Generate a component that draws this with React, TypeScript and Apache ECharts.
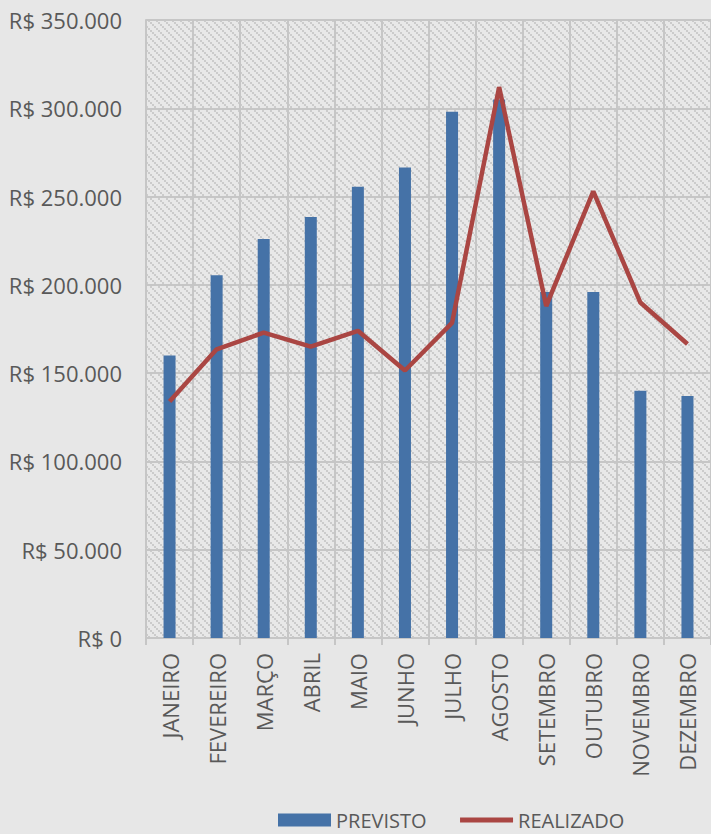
import React, { useEffect, useRef } from "react";
import * as echarts from "echarts";

const categories = ["JANEIRO", "FEVEREIRO", "MARÇO", "ABRIL", "MAIO", "JUNHO", "JULHO", "AGOSTO", "SETEMBRO", "OUTUBRO", "NOVEMBRO", "DEZEMBRO"];
const previsto = [160000, 205500, 226000, 238500, 255500, 266500, 298000, 305000, 196000, 196000, 140000, 137000];
const realizado = [134000, 163500, 173000, 165000, 174000, 151500, 178500, 312000, 188000, 253000, 190000, 166500];
const seriesNames = ["PREVISTO", "REALIZADO"];

function makePattern(): HTMLCanvasElement {
  const c = document.createElement("canvas");
  c.width = 8;
  c.height = 8;
  const ctx = c.getContext("2d")!;
  ctx.fillStyle = "#e8e8e8";
  ctx.fillRect(0, 0, 8, 8);
  ctx.fillStyle = "#cbcbcb";
  for (let y = 0; y < 8; y++) {
    for (let x = 0; x < 8; x++) {
      if ((((x >> 1) - (y >> 1)) % 4 + 4) % 4 === 0) ctx.fillRect(x, y, 1, 1);
    }
  }
  return c;
}

function fmt(v: number): string {
  const s = Math.round(v).toString().replace(/\B(?=(\d{3})+(?!\d))/g, ".");
  return "R$ " + s;
}

export default function App() {
  const ref = useRef<HTMLDivElement>(null);
  useEffect(() => {
    if (!ref.current) return;
    const chart = echarts.init(ref.current, undefined, { renderer: "svg" });
    const font = "'Open Sans', sans-serif";
    const gridColor = "#c6c6c6";
    chart.setOption({
      animation: false,
      backgroundColor: "#e7e7e7",
      textStyle: { fontFamily: font },
      grid: {
        left: 146,
        right: -3,
        top: 20,
        bottom: 196,
        show: true,
        borderWidth: 0,
        backgroundColor: { image: makePattern(), repeat: "repeat" },
      },
      legend: {
        left: 273,
        top: 805,
        itemWidth: 53,
        itemHeight: 13,
        itemGap: 31,
        textStyle: { fontSize: 20, color: "#595959", fontFamily: font },
        data: [
          { name: seriesNames[0], icon: "rect" },
          { name: seriesNames[1], itemStyle: { opacity: 0 }, lineStyle: { width: 5 } },
        ],
      },
      xAxis: {
        type: "category",
        data: categories,
        boundaryGap: true,
        axisLine: { show: true, lineStyle: { color: gridColor, width: 2 } },
        axisTick: { show: true, length: 7, lineStyle: { color: gridColor, width: 2 } },
        splitLine: { show: true, lineStyle: { color: gridColor, width: 2 } },
        axisLabel: { rotate: 90, margin: 15, fontSize: 22, color: "#595959", fontFamily: font },
      },
      yAxis: {
        type: "value",
        min: 0,
        max: 350000,
        interval: 50000,
        axisLine: { show: true, lineStyle: { color: gridColor, width: 2 } },
        axisTick: { show: false },
        splitLine: { show: true, lineStyle: { color: gridColor, width: 2 } },
        axisLabel: { margin: 24, fontSize: 22, color: "#595959", fontFamily: font, formatter: (v: number) => fmt(v) },
      },
      series: [
        {
          name: seriesNames[0],
          type: "bar",
          data: previsto,
          barWidth: 12,
          itemStyle: { color: "#4572A7" },
        },
        {
          name: seriesNames[1],
          type: "line",
          data: realizado,
          symbol: "none",
          lineStyle: { color: "#AA4643", width: 4.5 },
          itemStyle: { color: "#AA4643" },
        },
      ],
    });
    return () => chart.dispose();
  }, []);
  return <div ref={ref} style={{ position: "absolute", left: 0, top: 0, width: 711, height: 834 }} />;
}
